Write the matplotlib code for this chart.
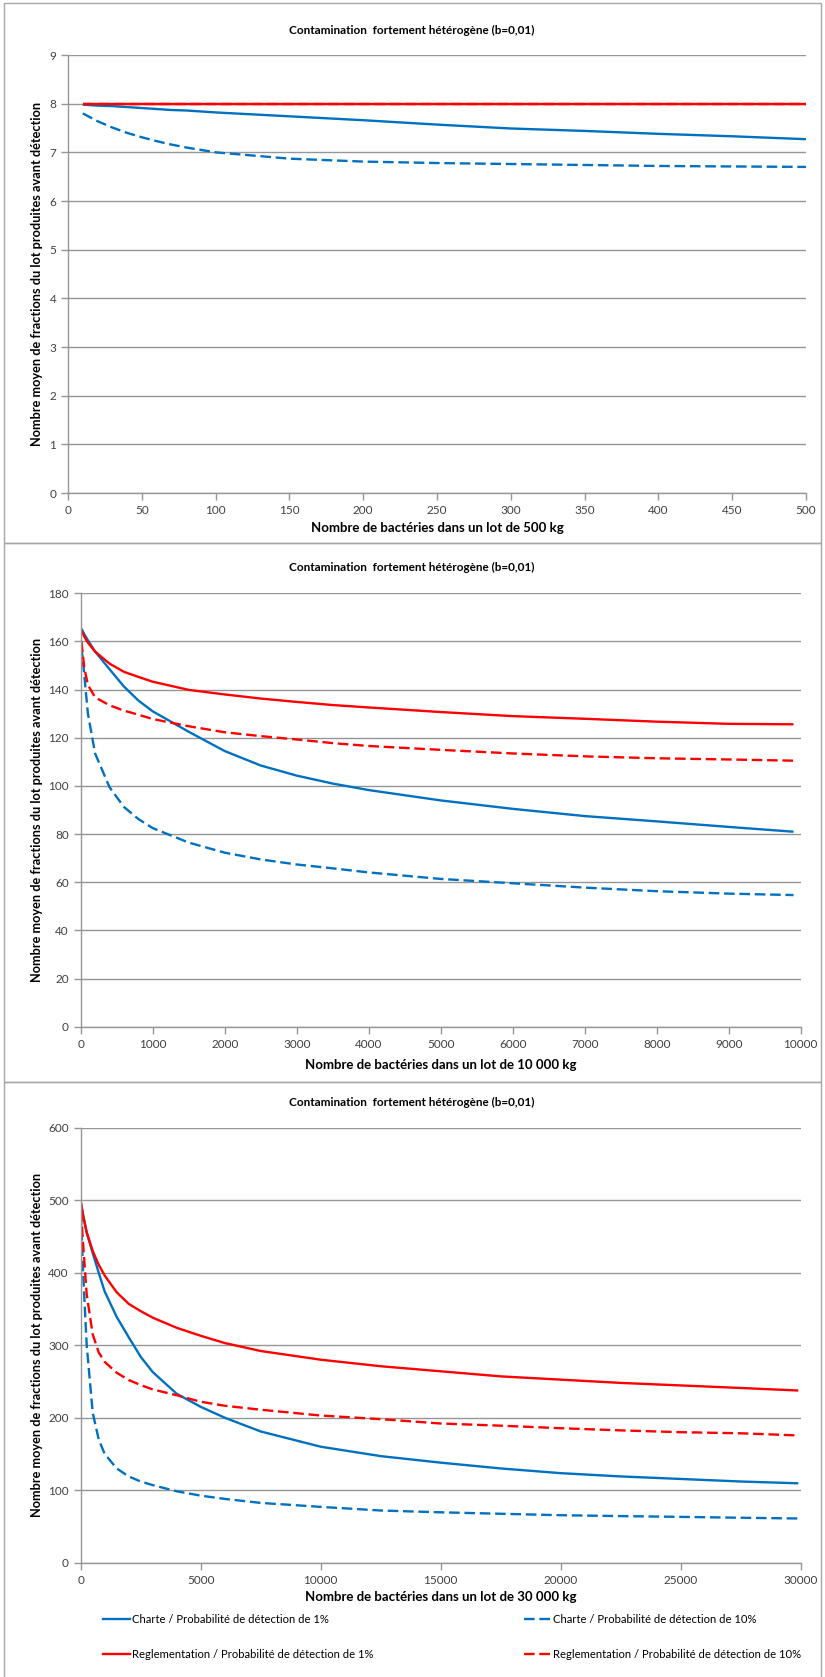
import matplotlib
matplotlib.use("Agg")
import matplotlib.pyplot as plt
from matplotlib.patches import Rectangle
from matplotlib.lines import Line2D

plt.rcParams['font.family'] = ['Lato', 'DejaVu Sans']

W, H = 825, 1677

TITLE = "Contamination  fortement hétérogène (b=0,01)"
YLABEL = "Nombre moyen de fractions du lot produites avant détection"
LABELS = ["Charte / Probabilité de détection de 1%",
          "Charte / Probabilité de détection de 10%",
          "Reglementation / Probabilité de détection de 1%",
          "Reglementation / Probabilité de détection de 10%"]

# panel 1 : lot de 500 kg
x1 = [10, 20, 30, 40, 50, 60, 70, 80, 90, 100, 150, 200, 250, 300, 350, 400, 450, 500]
charte1_1 = [7.98, 7.96, 7.95, 7.93, 7.91, 7.89, 7.87, 7.86, 7.84, 7.82, 7.74, 7.66,
             7.57, 7.49, 7.44, 7.38, 7.33, 7.27]
charte10_1 = [7.80, 7.64, 7.51, 7.40, 7.31, 7.23, 7.16, 7.10, 7.05, 7.00, 6.87, 6.81,
              6.78, 6.76, 6.74, 6.72, 6.71, 6.70]
regl1_1 = [8.0] * len(x1)
regl10_1 = [8.0] * len(x1)

# panel 2 : lot de 10 000 kg
x2 = [10, 50, 100, 200, 400, 600, 800, 1000, 1500, 2000, 2500, 3000, 3500, 4000,
      5000, 6000, 7000, 8000, 9000, 9900]
charte1_2 = [165.3, 163.0, 160.5, 155.8, 148.5, 141.3, 135.5, 131.0, 122.5, 114.5,
             108.5, 104.3, 101.0, 98.3, 94.0, 90.5, 87.5, 85.3, 83.0, 81.0]
charte10_2 = [158.0, 146.0, 130.0, 113.5, 99.5, 91.3, 86.3, 82.5, 76.5, 72.3, 69.5,
              67.4, 65.8, 64.1, 61.4, 59.6, 57.8, 56.3, 55.3, 54.7]
regl1_2 = [164.5, 162.0, 159.5, 155.8, 150.8, 147.4, 145.3, 143.3, 139.9, 138.0,
           136.3, 134.9, 133.6, 132.6, 130.7, 129.0, 127.9, 126.7, 125.8, 125.6]
regl10_2 = [160.0, 149.0, 142.0, 136.8, 133.5, 131.3, 129.6, 127.8, 124.8, 122.3,
            120.7, 119.3, 117.8, 116.6, 115.0, 113.5, 112.3, 111.5, 111.0, 110.5]

# panel 3 : lot de 30 000 kg
x3 = [10, 100, 250, 500, 750, 1000, 1500, 2000, 2500, 3000, 4000, 5000, 6000, 7500,
      10000, 12500, 15000, 17500, 20000, 22500, 25000, 27500, 29900]
charte1_3 = [496, 480, 455, 427, 400, 374, 339, 311, 284, 263, 233, 215, 200, 181,
             160, 147, 138, 130, 123.5, 119, 115.5, 112, 109.5]
charte10_3 = [480, 400, 300, 207, 170, 150, 130, 119, 112, 107, 98.5, 92.5, 88, 82.5,
              77, 72, 69.5, 67.5, 65.5, 64.3, 63.2, 62, 61]
regl1_3 = [497, 478, 456, 430, 411, 396, 373, 357, 347, 338, 324, 313, 303, 292,
           280, 271, 264, 257, 252.5, 248, 244.5, 241, 237.5]
regl10_3 = [485, 440, 370, 315, 290, 277, 262, 252, 245, 239, 231, 222, 216.5, 211,
            203, 198, 192, 189, 185.5, 182.5, 180, 178.5, 175.5]

BLUE = "#0070C0"
RED = "#FF0000"
GRID = "#969696"
DASH = (4.5, 2)
LW = 1.7

fig = plt.figure(figsize=(W / 100, H / 100), dpi=100)


def rect(left, top, right, bottom):
    return [left / W, 1 - bottom / H, (right - left) / W, (bottom - top) / H]


# panel frames
for top, bottom in [(3, 543), (543, 1082), (1082, 1690)]:
    fig.add_artist(Rectangle((4 / W, 1 - bottom / H), 817 / W, (bottom - top) / H,
                             transform=fig.transFigure, fill=False,
                             edgecolor="#A6A6A6", lw=1.0))

panels = [
    (rect(68, 55, 806, 493), x1, [charte1_1, charte10_1, regl1_1, regl10_1],
     (0, 500, 50), (0, 9, 1), 30, 528, "Nombre de bactéries dans un lot de 500 kg"),
    (rect(80.7, 593.3, 800.7, 1026.8), x2, [charte1_2, charte10_2, regl1_2, regl10_2],
     (0, 10000, 1000), (0, 180, 20), 567, 1065,
     "Nombre de bactéries dans un lot de 10 000 kg"),
    (rect(80.7, 1127.7, 800.7, 1562.7), x3, [charte1_3, charte10_3, regl1_3, regl10_3],
     (0, 30000, 5000), (0, 600, 100), 1102, 1597,
     "Nombre de bactéries dans un lot de 30 000 kg"),
]

for pos, x, series, xr, yr, ty, xly, xlabel in panels:
    ax = fig.add_axes(pos)
    styles = [(BLUE, "-"), (BLUE, "--"), (RED, "-"), (RED, "--")]
    for ys, (c, ls) in zip(series, styles):
        line, = ax.plot(x, ys, color=c, lw=LW, solid_capstyle="butt")
        if ls == "--":
            line.set_dashes(DASH)
    ax.set_xlim(xr[0], xr[1])
    ax.set_ylim(yr[0], yr[1])
    ax.set_xticks(range(xr[0], xr[1] + 1, xr[2]))
    ax.set_yticks(range(yr[0], yr[1] + 1, yr[2]))
    ax.grid(axis="y", color=GRID, lw=1.0)
    ax.set_axisbelow(True)
    for s in ["top", "right"]:
        ax.spines[s].set_visible(False)
    for s in ["left", "bottom"]:
        ax.spines[s].set_color(GRID)
        ax.spines[s].set_linewidth(1.0)
    ax.tick_params(colors=GRID, labelcolor="#404040", labelsize=8.5,
                   length=5, width=1.0)
    fig.text(412 / W, 1 - ty / H, TITLE, ha="center", va="center",
             fontsize=8.5, fontweight="bold")
    cx = pos[0] + pos[2] / 2
    fig.text(cx, 1 - xly / H, xlabel, ha="center", va="center",
             fontsize=9.5, fontweight="bold")
    cy = pos[1] + pos[3] / 2
    fig.text(37 / W, cy, YLABEL, rotation=90, ha="center", va="center",
             fontsize=9.2, fontweight="bold")

# legend, two columns
def handle(c, dashed):
    h = Line2D([], [], color=c, lw=LW)
    if dashed:
        h.set_dashes(DASH)
    return h

common = dict(frameon=False, fontsize=8.1, handlelength=2.4, handletextpad=0.15,
              labelspacing=2.08, borderpad=0, borderaxespad=0)
fig.legend([handle(BLUE, False), handle(RED, False)], [LABELS[0], LABELS[2]],
           loc="center left", bbox_to_anchor=(103 / W, 1 - 1637 / H), **common)
fig.legend([handle(BLUE, True), handle(RED, True)], [LABELS[1], LABELS[3]],
           loc="center left", bbox_to_anchor=(524 / W, 1 - 1637 / H), **common)

fig.savefig("out.png", dpi=100)
